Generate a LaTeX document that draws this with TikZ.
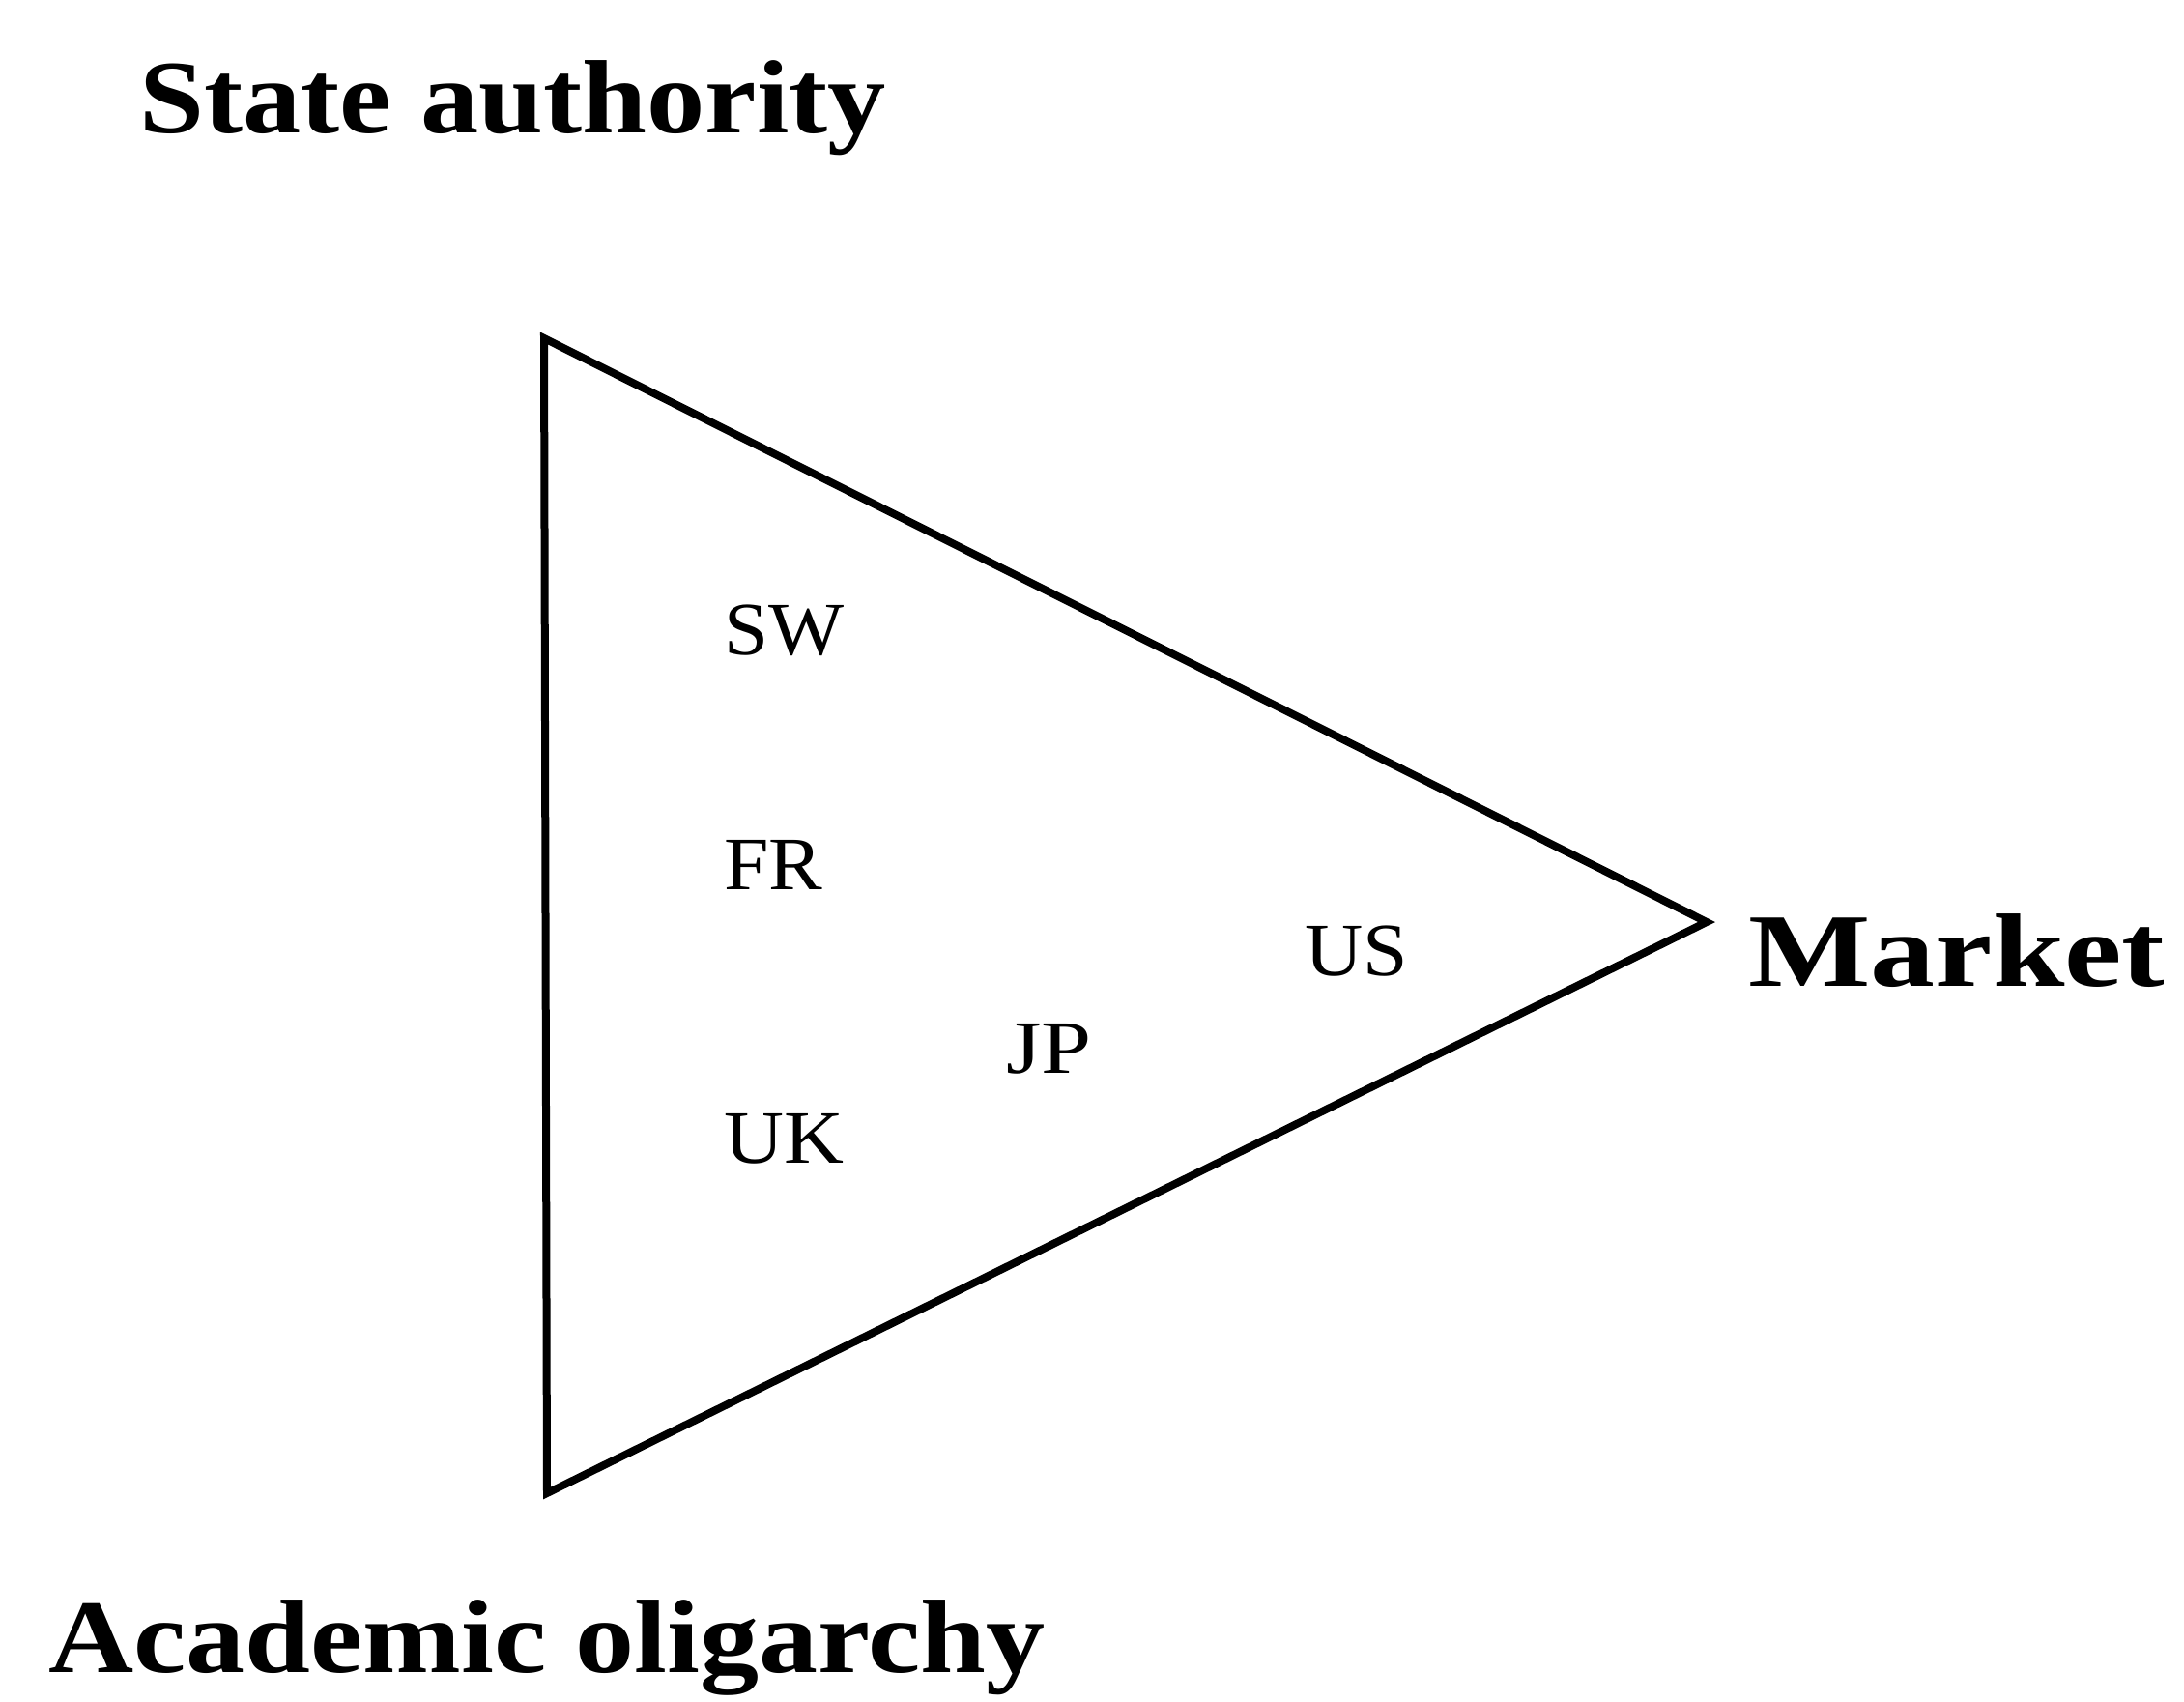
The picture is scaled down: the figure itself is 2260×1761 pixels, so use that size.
\documentclass[tikz,border=0pt]{standalone}
\usepackage{graphicx}
\usepackage{fontspec}
\setmainfont{Liberation Serif}
\newcommand{\wide}[2]{\scalebox{#1}[1]{#2}}
\begin{document}
\begin{tikzpicture}[x=1pt,y=-1pt,
  big/.style={anchor=base west,inner sep=0pt,font=\fontsize{108}{120}\selectfont\bfseries},
  ctry/.style={anchor=base west,inner sep=0pt,font=\fontsize{78}{90}\selectfont},
  edge/.style={line width=8pt,line join=miter}]
\useasboundingbox (0,0) rectangle (2260,1761);
\coordinate (A) at (563,350);
\coordinate (B) at (566,1545);
\coordinate (C) at (1766,954);
\draw[edge] (A) -- (C) -- (B) -- cycle;
\node[big] (state) at (144,137) {\wide{1.115}{State authority}};
\node[big] (market) at (1809,1020) {\wide{1.24}{Market}};
\node[big] (acad) at (50,1730) {\wide{1.13}{Academic oligarchy}};
\node[ctry] (sw) at (749,677) {\wide{1.06}{SW}};
\node[ctry] (fr) at (749,920) {\wide{1.07}{FR}};
\node[ctry] (uk) at (749,1203) {\wide{1.1}{UK}};
\node[ctry] (jp) at (1041,1110) {\wide{1.2}{JP}};
\node[ctry] (us) at (1350,1009) {\wide{1.07}{US}};
\end{tikzpicture}
\end{document}
